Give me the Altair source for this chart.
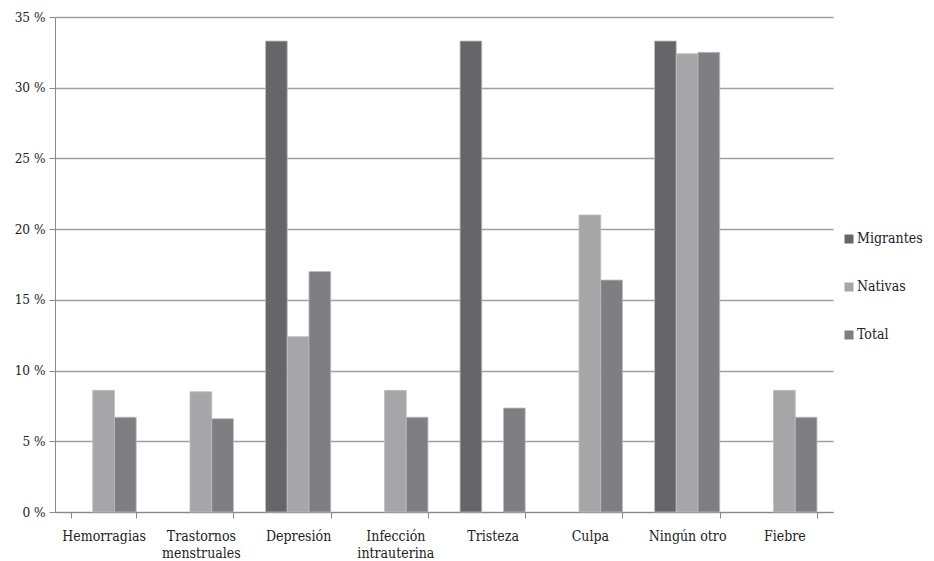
import altair as alt
import pandas as pd

categories = ["Hemorragias", "Trastornos|menstruales", "Depresión", "Infección|intrauterina",
              "Tristeza", "Culpa", "Ningún otro", "Fiebre"]
series = ["Migrantes", "Nativas", "Total"]
migrantes = [0, 0, 33.3, 0, 33.3, 0, 33.3, 0]
nativas = [8.6, 8.5, 12.4, 8.6, 0, 21.0, 32.4, 8.6]
total = [6.7, 6.6, 17.0, 6.7, 7.35, 16.4, 32.5, 6.7]
colors = ["#666668", "#a6a6a8", "#7f7f83"]

rows = []
for i, c in enumerate(categories):
    for s, vals in zip(series, [migrantes, nativas, total]):
        rows.append({"cat": c, "serie": s, "valor": vals[i]})
df = pd.DataFrame(rows)

FONT = "DejaVu Serif Condensed, DejaVu Serif"

chart = alt.Chart(df).transform_filter("datum.valor > 0").mark_bar(
    stroke="#bdbdbd", strokeWidth=0.8
).encode(
    x=alt.X("cat:N", sort=categories, title=None,
            scale=alt.Scale(paddingInner=0.33, paddingOuter=0.165),
            axis=alt.Axis(labelAngle=0, tickBand="extent",
                          labelExpr="isValid(datum.value) ? split(datum.value, '|') : ''",
                          labelFont=FONT, labelFontSize=14, labelColor="#222222",
                          domainColor="#888888", tickColor="#888888", tickSize=6,
                          labelPadding=11, grid=False, labelLineHeight=17)),
    xOffset=alt.XOffset("serie:N", sort=series),
    y=alt.Y("valor:Q", title=None,
            scale=alt.Scale(domain=[0, 35], nice=False),
            axis=alt.Axis(values=[0, 5, 10, 15, 20, 25, 30, 35], labelExpr="datum.value + ' %'",
                          labelFont=FONT, labelFontSize=13.5, labelColor="#222222",
                          domainColor="#888888", tickColor="#888888", tickSize=6,
                          gridColor="#a0a0a0", gridWidth=1.3, labelPadding=4)),
    color=alt.Color("serie:N", sort=series,
                    scale=alt.Scale(domain=series, range=colors),
                    legend=alt.Legend(title=None, orient="none", legendX=787, legendY=215,
                                      symbolType="square", symbolSize=81, symbolStrokeWidth=0,
                                      labelFont=FONT, labelFontSize=14, labelColor="#222222",
                                      rowPadding=34, labelOffset=1)),
).properties(
    width=778, height=495, autosize=alt.AutoSizeParams(type="none"),
    padding={"top": 9, "left": 47, "right": 92, "bottom": 48}
).configure(font=FONT).configure_view(stroke=None)

chart.save("out.html", embed_options={"renderer": "svg", "actions": False})
